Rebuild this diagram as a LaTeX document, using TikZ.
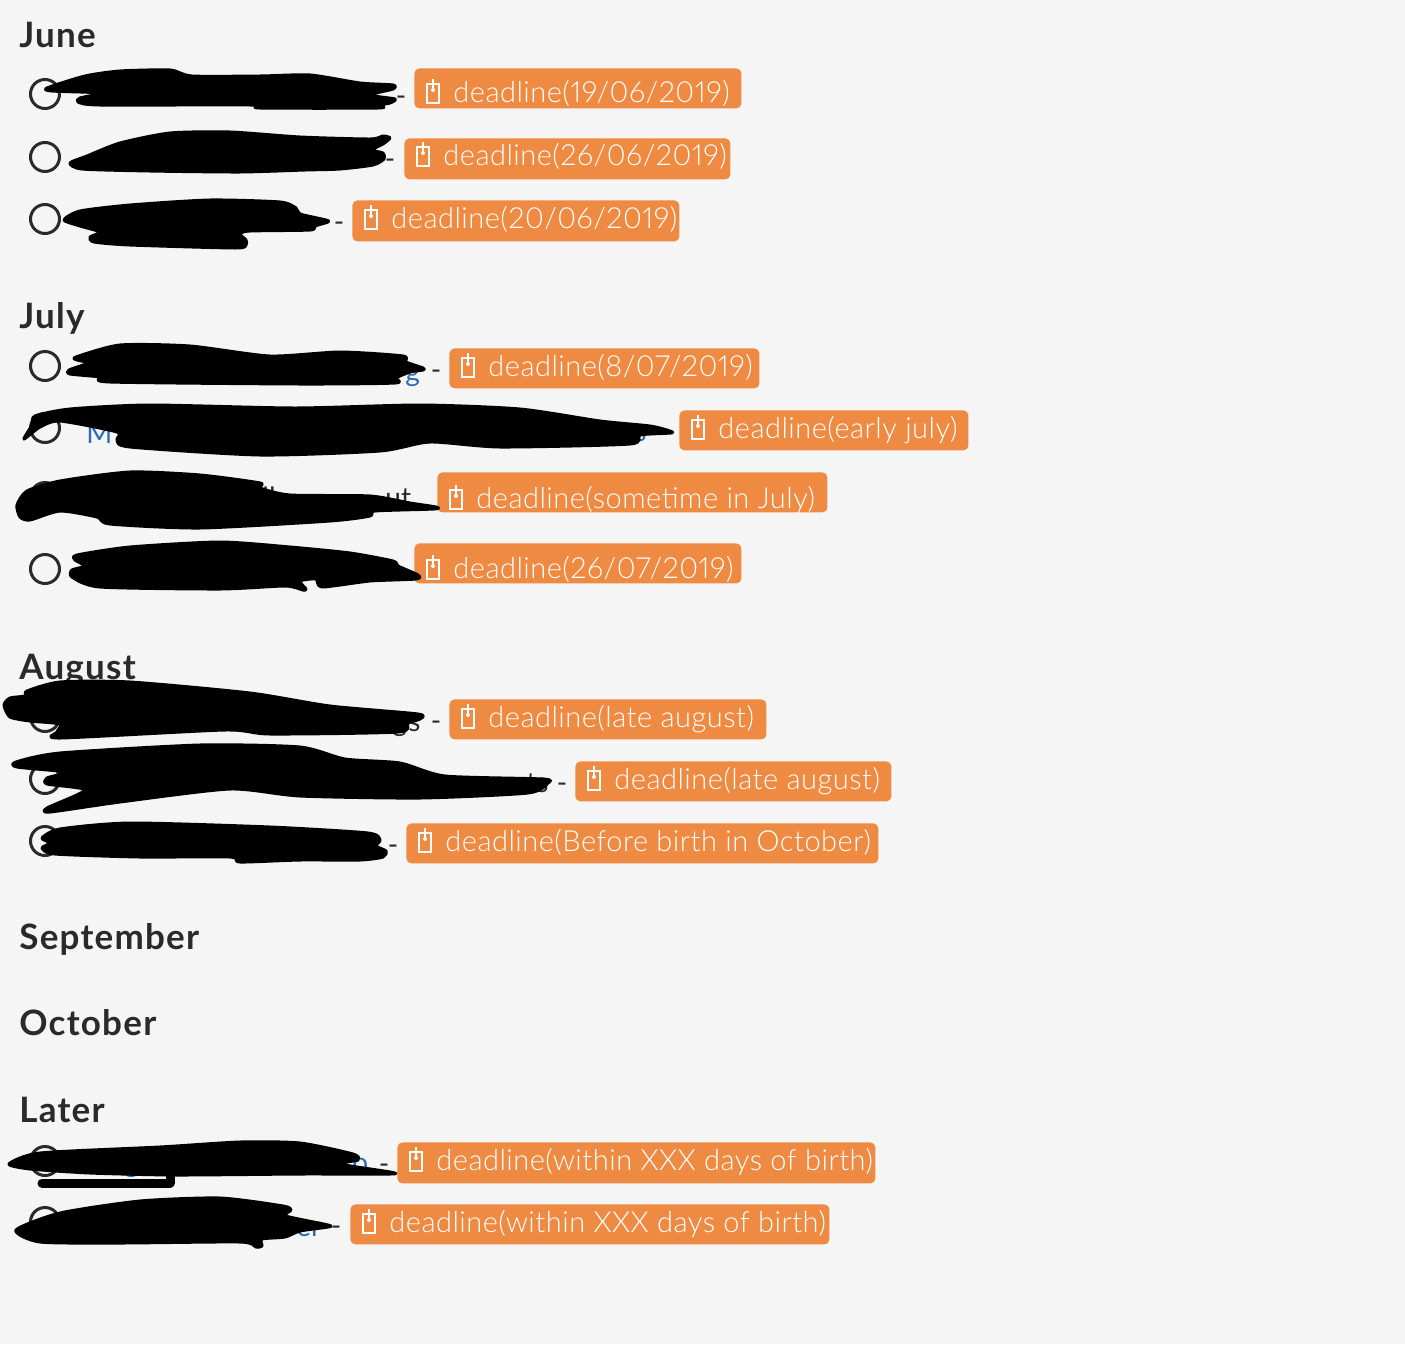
\documentclass[tikz,border=0pt]{standalone}
\usepackage{xcolor}
\usepackage{fontspec}
\usetikzlibrary{positioning}
\setmainfont{Lato}
\newfontfamily\headfont[LetterSpace=3.5]{Lato}
\newfontfamily\tagfont[LetterSpace=1.7,Numbers=Proportional]{Lato Light}
\definecolor{pagegrey}{HTML}{F5F5F5}
\definecolor{tagorange}{HTML}{EF8A43}
\definecolor{inkgrey}{HTML}{2A2A2A}
\definecolor{linkblue}{HTML}{2B6CB5}

\begin{document}
\begin{tikzpicture}[
	x=1pt, y=-1pt,
	thick
]
\tikzset{
    monthhead/.style = {anchor=base west, inner sep=0pt, text=inkgrey, font=\fontsize{35}{36}\selectfont\headfont\bfseries},
		tickring/.style = {circle, draw=inkgrey, line width=3pt, minimum size=29pt, inner sep=0pt},
		tagbox/.style = {anchor=north west, fill=tagorange, rounded corners=5pt, inner sep=0pt},
		tagtext/.style = {anchor=base west, inner sep=0pt, text=white, font=\fontsize{29}{32}\selectfont\tagfont},
		tagicon/.style = {draw=white, line width=2.2pt},
		dashmark/.style = {inner sep=0pt, text=inkgrey, font=\fontsize{28}{30}\selectfont},
		linkbit/.style = {anchor=base west, inner sep=0pt, text=linkblue, font=\fontsize{28}{30}\selectfont},
		greybit/.style = {anchor=base west, inner sep=0pt, text=inkgrey, font=\fontsize{28}{30}\selectfont},
		scribble/.style = {fill=black, draw=black, line width=3pt, line join=round},
		penstroke/.style = {draw=black, line width=9pt, line cap=round, line join=round}
}
\fill[pagegrey] (0,0) rectangle (1405,1344);
\useasboundingbox (0,0) rectangle (1405,1344);

% months
\node[monthhead] (june) at (19,47) {June};
\node[monthhead] (july) at (19,328) {July};
\node[monthhead] (august) at (19,679) {August};
\node[monthhead] (september) at (19,949) {September};
\node[monthhead] (october) at (19,1035) {October};
\node[monthhead] (later) at (19,1122) {Later};

% what is left of the struck out text
\node[linkbit] (bitA) at (405,381) {g};
\node[linkbit] (bitB) at (86,443) {M};
\node[linkbit] (bitC) at (634,441) {s};
\node[greybit] (bitD) at (385,507) {ut};
\node[greybit] (bitE) at (262,507) {ll};
\node[greybit] (bitF) at (392,731) {g};
\node[greybit] (bitK) at (408,731) {s};
\node[greybit] (bitG) at (526,792) {ts};
\node[linkbit] (bitH) at (352,1172) {o};
\node[linkbit] (bitI) at (124,1172) {g};
\node[linkbit] (bitJ) at (296,1236) {er};

% rows: number/row y/circle y/left/top/right/bottom/dash x/text
\foreach \i/\rowy/\cy/\lft/\tp/\rgt/\bt/\dx/\txt in {
	1/92/94/414/68/741/108/401/{deadline(19/06/2019)},
	2/155/157/404/138/730/179/390/{deadline(26/06/2019)},
	3/218/219/352/200/679/241/339/{deadline(20/06/2019)},
	4/366/366/449/348/759/388/436/{deadline(8/07/2019)},
	5/428/428/679/410/968/450/0/{deadline(early july)},
	6/498/497/437/472/827/512/0/{deadline(sometime in July)},
	7/568/569/414/543/741/583/0/{deadline(26/07/2019)},
	8/717/717/449/699/766/739/436/{deadline(late august)},
	9/779/779/575/761/891/801/562/{deadline(late august)},
	10/841/841/406/823/878/863/393/{deadline(Before birth in October)},
	11/1160/1161/397/1142/875/1183/384/{deadline(within XXX days of birth)},
	12/1222/1222/350/1204/829/1244/336/{deadline(within XXX days of birth)}
} {
	\pgfmathsetmacro{\tagw}{\rgt-\lft}
	\pgfmathsetmacro{\tagh}{\bt-\tp}
	\node[tickring] (ring\i) at (45,\cy) {};
	\node[tagbox, minimum width=\tagw pt, minimum height=\tagh pt] (tag\i) at (\lft,\tp) {};
	\node[tagtext] (text\i) at (\lft+39,\rowy+10) {\txt};
	\draw[tagicon] (\lft+13,\rowy-8) rectangle (\lft+25,\rowy+11);
	\draw[tagicon] (\lft+19,\rowy-13) -- (\lft+19,\rowy-3);
	\fill[white] (\lft+19,\rowy-2) circle (2pt);
	\ifnum\dx>0
		\node[dashmark] (dash\i) at (\dx,\rowy+9) {-};
	\fi
}

% the black pen strokes
\fill[scribble] plot[smooth cycle, tension=0.4] coordinates {(47,88) (85,76) (120,71) (170,70) (192,76) (260,76) (310,75) (360,83) (393,85) (393,89) (370,95) (395,99) (390,103) (380,105) (378,108) (260,108) (250,105) (100,105) (78,102) (80,98) (100,93) (52,91)};
\fill[scribble] plot[smooth cycle, tension=0.4] coordinates {(70,163) (87,156) (120,143) (170,133) (230,132) (300,137) (370,139) (383,136) (390,138) (383,144) (372,150) (383,153) (384,159) (373,165) (340,169) (305,170) (240,172) (150,171) (82,169)};
\fill[scribble] plot[smooth cycle, tension=0.4] coordinates {(64,220) (80,211) (130,205) (210,200) (280,202) (296,208) (300,214) (326,220) (328,222) (315,226) (310,230) (250,231) (240,234) (246,240) (246,245) (235,248) (130,245) (94,242) (90,237) (100,232) (80,226)};
\fill[scribble] plot[smooth cycle, tension=0.4] coordinates {(76,357) (120,345) (190,346) (270,356) (340,352) (403,356) (406,362) (423,368) (423,370) (410,372) (396,378) (395,383) (300,384) (110,382) (100,377) (70,374) (69,370) (88,363) (77,360)};
\fill[scribble] plot[smooth cycle, tension=0.4] coordinates {(24,439) (32,425) (35,416) (70,409) (150,405) (295,408) (420,405) (520,409) (600,421) (650,426) (670,431) (671,433) (640,435) (630,444) (500,447) (430,442) (380,451) (260,455) (130,447) (117,440) (117,432) (60,421) (40,427)};
\fill[scribble] plot[smooth cycle, tension=0.4] coordinates {(17,505) (27,491) (60,481) (130,472) (200,475) (260,483) (260,488) (290,495) (370,496) (410,503) (436,507) (434,509) (375,511) (370,516) (330,521) (200,528) (110,524) (97,517) (60,511) (30,520) (20,517)};
\fill[scribble] plot[smooth cycle, tension=0.4] coordinates {(77,555) (130,547) (220,542) (290,547) (350,553) (393,561) (398,566) (418,575) (416,579) (370,581) (322,587) (316,579) (300,581) (306,589) (303,590) (285,586) (220,589) (100,587) (72,577) (72,570) (85,566) (75,560)};
\fill[scribble] plot[smooth cycle, tension=0.4] coordinates {(4,705) (10,698) (25,696) (27,691) (60,682) (130,682) (250,693) (330,706) (418,714) (420,719) (408,723) (398,732) (270,734) (225,730) (60,738) (57,732) (60,724) (30,721) (10,717)};
\fill[scribble] plot[smooth cycle, tension=0.4] coordinates {(16,762) (60,753) (200,745) (300,747) (345,759) (400,763) (445,776) (543,779) (548,783) (528,793) (420,798) (300,796) (230,789) (120,802) (50,812) (47,808) (85,790) (47,784) (47,778) (65,772) (17,767)};
\fill[scribble] plot[smooth cycle, tension=0.4] coordinates {(42,838) (60,829) (130,823) (270,827) (368,833) (380,840) (376,846) (386,851) (383,857) (360,860) (300,860) (240,862) (230,857) (140,857) (55,854) (42,848) (50,843)};
\fill[scribble] plot[smooth cycle, tension=0.4] coordinates {(9,1164) (40,1153) (160,1147) (240,1142) (300,1143) (353,1154) (358,1160) (340,1164) (390,1172) (390,1174) (300,1174) (175,1175) (90,1173) (30,1169)};
\coordinate (strokeA) at (42,1183);
\coordinate (strokeB) at (170,1183);
\coordinate (strokeC) at (170,1176);
\draw[penstroke] (strokeA) -- (strokeB) -- (strokeC);
\fill[scribble] plot[smooth cycle, tension=0.4] coordinates {(16,1230) (60,1213) (140,1201) (220,1198) (283,1206) (291,1210) (286,1216) (328,1225) (328,1227) (300,1231) (285,1237) (262,1239) (262,1246) (256,1247) (240,1242) (120,1243) (40,1242)};
\end{tikzpicture}
\end{document}
